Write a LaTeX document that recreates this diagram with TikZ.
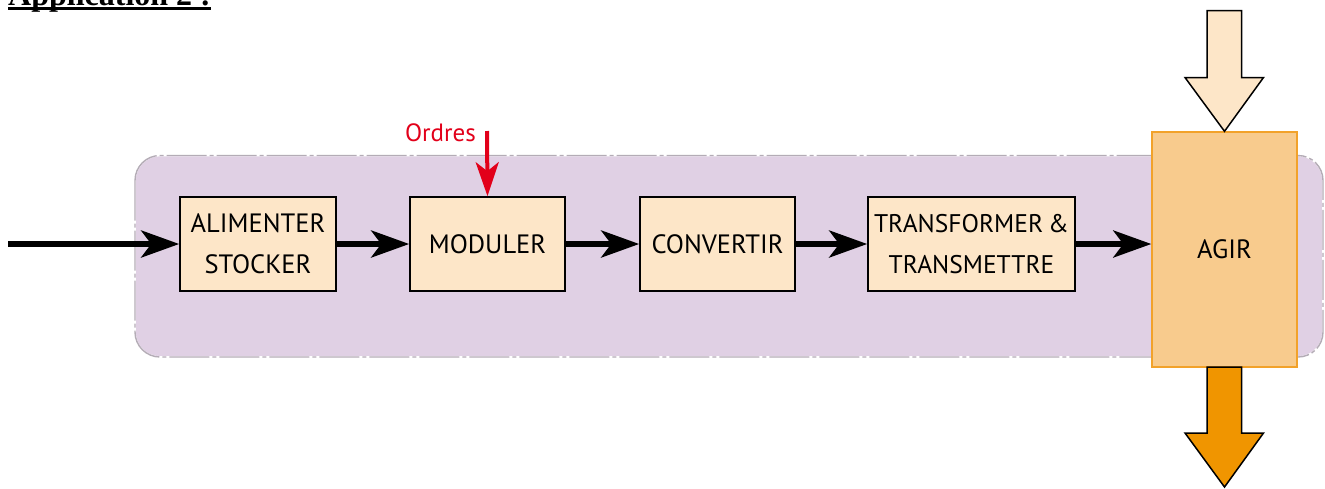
\documentclass[tikz,border=0pt]{standalone}
\usepackage{fontspec}
\setmainfont{PT Sans}
\newfontfamily\headfont{Liberation Serif}
\usetikzlibrary{arrows.meta}
\definecolor{purplebg}{HTML}{E0D0E4}
\definecolor{boxfill}{HTML}{FDE6C8}
\definecolor{agirfill}{HTML}{F8CB8D}
\definecolor{agirdraw}{HTML}{F2A22A}
\definecolor{outfill}{HTML}{F09500}
\definecolor{ordred}{HTML}{E2001A}
\definecolor{bordergray}{HTML}{B4ACB6}
\tikzset{
  fnbox/.style={draw=black, line width=1.6pt, fill=boxfill, minimum height=94pt, align=center, font=\fontsize{26.5}{41}\selectfont, inner sep=0pt},
  flow/.style={line width=5.5pt, -{Stealth[length=38pt, width=27pt, inset=10pt]}},
  order/.style={draw=ordred, line width=4pt, -{Stealth[length=34pt, width=23pt, inset=9pt]}, ordred},
  bigarrow/.style={draw=black, line width=1.5pt, line join=miter},
}
\begin{document}
\begin{tikzpicture}[x=1pt, y=-1pt]
\useasboundingbox (0,0) rectangle (1325,488);
\clip (0,0) rectangle (1325,488);
% heading (cut off at top, as in the reference)
\node[anchor=base west, inner sep=0pt, font=\headfont\bfseries\fontsize{32}{36}\selectfont] (head) at (8,5) {Application 2 :};
\draw[line width=3pt] (8,8.7) -- (211,8.7);
% background zone
\draw[white, line width=1.6pt, fill=purplebg, rounded corners=25pt] (135,155.5) rectangle (1323,357);
\draw[bordergray, line width=1.4pt, rounded corners=25pt, dash pattern=on 40pt off 3pt on 4pt off 3pt] (135,155.5) rectangle (1323,357);
% function boxes
\node[fnbox, minimum width=156pt] (alim) at (258,244) {ALIMENTER\\STOCKER};
\node[fnbox, minimum width=155pt] (mod) at (487.5,244) {MODULER};
\node[fnbox, minimum width=155pt] (conv) at (717.5,244) {CONVERTIR};
\node[fnbox, minimum width=207pt, font=\fontsize{25.5}{41}\selectfont] (trans) at (971.5,244) {TRANSFORMER\hspace{5pt}\&\\TRANSMETTRE};
\node[draw=agirdraw, line width=1.4pt, fill=agirfill, minimum width=145pt, minimum height=235pt, inner sep=0pt, font=\fontsize{26.5}{30}\selectfont] (agir) at (1224.5,249.5) {AGIR};
% flow of energy
\coordinate (in) at (8,244);
\draw[flow] (in) -- (alim.west);
\draw[flow] (alim.east) -- (mod.west);
\draw[flow] (mod.east) -- (conv.west);
\draw[flow] (conv.east) -- (trans.west);
\draw[flow] (trans.east) -- (agir.west |- trans.east);
% orders
\coordinate (ord) at (487,131);
\node[anchor=base east, inner sep=0pt, text=ordred, font=\fontsize{25}{28}\selectfont] (ordlbl) at (476,141) {Ordres};
\draw[order] (ord) -- (mod.north);
% big arrows
\draw[bigarrow, fill=boxfill] (1207,10.5) -- (1241.5,10.5) -- (1241.5,77.5) -- (1263.5,77.5) -- (agir.north) -- (1185,77.5) -- (1207,77.5) -- cycle;
\draw[bigarrow, fill=outfill] (1207,367) -- (1241.5,367) -- (1241.5,433) -- (1263.5,433) -- (1224.5,487) -- (1185,433) -- (1207,433) -- cycle;
\end{tikzpicture}
\end{document}
